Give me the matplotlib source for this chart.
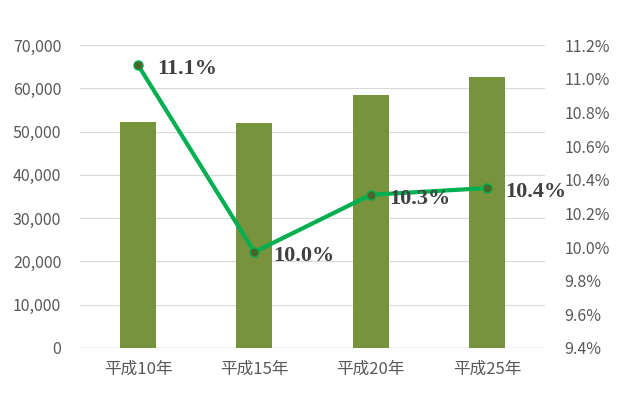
import matplotlib

matplotlib.use("Agg")
import matplotlib.pyplot as plt
import numpy as np
from matplotlib.ticker import FuncFormatter

plt.rcParams["font.family"] = ["Noto Sans CJK JP", "DejaVu Sans"]

years = ["平成10年", "平成15年", "平成20年", "平成25年"]
counts = [52300, 52000, 58400, 62500]
rates = [11.08, 9.97, 10.31, 10.35]
rate_labels = ["11.1%", "10.0%", "10.3%", "10.4%"]

GRAY = "#595959"

fig = plt.figure(figsize=(6.22, 3.95), dpi=100)
ax = fig.add_axes([80 / 622, 47 / 395, 465 / 622, 303 / 395])
x = np.arange(len(years))

ax.bar(x, counts, width=0.31, color="#77933C", zorder=2)
ax.set_xlim(-0.5, len(years) - 0.5)
ax.set_ylim(0, 70000)
ax.set_yticks(range(0, 70001, 10000))
ax.yaxis.set_major_formatter(FuncFormatter(lambda v, p: f"{int(v):,}"))
ax.grid(axis="y", color="#D9D9D9", linewidth=0.8, zorder=0)
ax.set_xticks(x)
ax.set_xticklabels(years)
for s in ax.spines.values():
    s.set_visible(False)
ax.tick_params(length=0, colors=GRAY, labelsize=11.5)
ax.tick_params(axis="x", pad=9, labelsize=12)
ax.tick_params(axis="y", pad=13.5)
ax.axhline(0, color="#D0D0D0", linewidth=1, zorder=1)

ax2 = ax.twinx()
ax2.plot(x, rates, color="#00B050", linewidth=3, marker="o", markersize=6.5,
         markerfacecolor="#4F6228", markeredgecolor="#00B050", markeredgewidth=1, zorder=3)
ax2.set_ylim(9.4, 11.2)
ax2.set_yticks(np.arange(9.4, 11.21, 0.2))
ax2.yaxis.set_major_formatter(FuncFormatter(lambda v, p: f"{v:.1f}%"))
for s in ax2.spines.values():
    s.set_visible(False)
ax2.tick_params(length=0, colors=GRAY, labelsize=11.5, pad=14)

for xi, r, lab in zip(x, rates, rate_labels):
    ax2.annotate(lab, (xi, r), xytext=(13.5, -3), textcoords="offset points",
                 ha="left", va="center", fontsize=16, fontweight="bold",
                 family="Liberation Serif", color="#404040")

fig.savefig("out.png", dpi=100)
